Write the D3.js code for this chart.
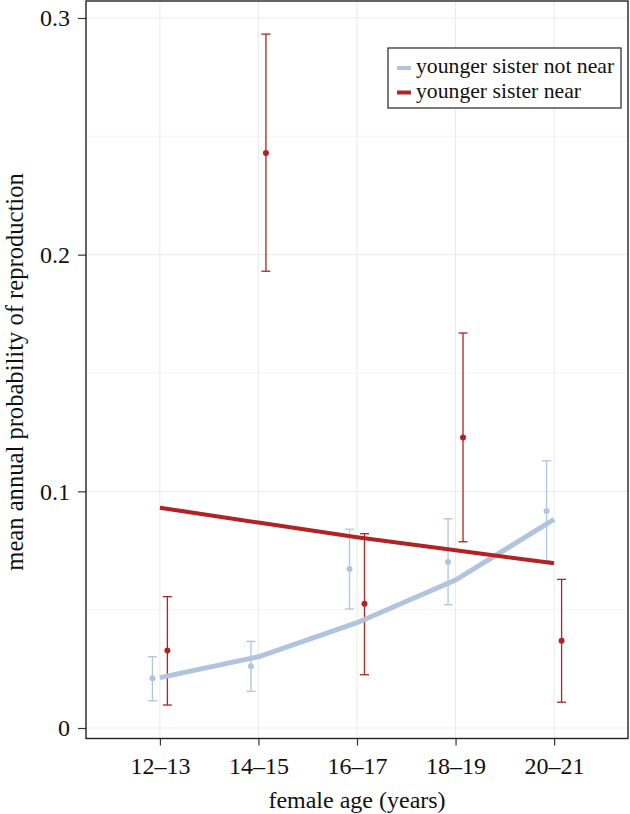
<!DOCTYPE html>
<html>
<head>
<meta charset="utf-8">
<script src="https://cdn.jsdelivr.net/npm/d3@7"></script>
<style>
html,body{margin:0;padding:0;background:#fff;}
svg{display:block;}
text{font-family:"Liberation Serif","Times New Roman",serif;fill:#111;}
</style>
</head>
<body>
<svg id="chart" width="630" height="814"></svg>
<script>
const categories = ["12–13","14–15","16–17","18–19","20–21"];
const yTicks = [0, 0.1, 0.2, 0.3];
const yMinorTicks = [0.05, 0.15, 0.25];

const notNearMean = [0.0210, 0.0261, 0.0672, 0.0701, 0.0917];
const notNearLow  = [0.0115, 0.0155, 0.0503, 0.0521, 0.0706];
const notNearHigh = [0.0301, 0.0366, 0.0840, 0.0884, 0.1129];
const notNearFit  = [0.0213, 0.0301, 0.0445, 0.0625, 0.0882];

const nearMean = [0.0327, 0.2430, 0.0525, 0.1227, 0.0369];
const nearLow  = [0.0097, 0.1930, 0.0225, 0.0787, 0.0109];
const nearHigh = [0.0555, 0.2932, 0.0821, 0.1669, 0.0628];
const nearFit  = [0.0931, 0.0868, 0.0806, 0.0751, 0.0696];

const seriesNames = ["younger sister not near", "younger sister near"];
const colors = ["#b0c4de", "#b22222"];

(function () {
const svg = d3.select("#chart");
const pL = 86, pR = 628, pT = 1, pB = 738.5;

const x = d3.scaleLinear().domain([-0.75, categories.length - 0.25]).range([pL, pR]);
const y = d3.scaleLinear().domain([0, 0.3]).range([728, 18]);
const dodge = 0.076;

svg.append("rect").attr("x", pL).attr("y", pT).attr("width", pR - pL).attr("height", pB - pT).attr("fill", "#fff");

// grid
const grid = svg.append("g");
grid.selectAll(".ymin").data(yMinorTicks).join("line")
  .attr("x1", pL).attr("x2", pR).attr("y1", d => y(d)).attr("y2", d => y(d))
  .attr("stroke", "#f4f4f4").attr("stroke-width", 1);
grid.selectAll(".ymaj").data(yTicks).join("line")
  .attr("x1", pL).attr("x2", pR).attr("y1", d => y(d)).attr("y2", d => y(d))
  .attr("stroke", "#ebebeb").attr("stroke-width", 1);
grid.selectAll(".xmaj").data(categories).join("line")
  .attr("x1", (d, i) => x(i)).attr("x2", (d, i) => x(i)).attr("y1", pT).attr("y2", pB)
  .attr("stroke", "#ebebeb").attr("stroke-width", 1);

function drawSeries(mean, low, high, color, off) {
  const g = svg.append("g");
  const idx = d3.range(mean.length);
  g.selectAll("line.v").data(idx).join("line")
    .attr("x1", i => x(i + off)).attr("x2", i => x(i + off))
    .attr("y1", i => y(low[i])).attr("y2", i => y(high[i]))
    .attr("stroke", color).attr("stroke-width", 1.3);
  [low, high].forEach(arr => {
    g.append("g").selectAll("line").data(idx).join("line")
      .attr("x1", i => x(i + off) - 4.5).attr("x2", i => x(i + off) + 4.5)
      .attr("y1", i => y(arr[i])).attr("y2", i => y(arr[i]))
      .attr("stroke", color).attr("stroke-width", 1.3);
  });
  g.append("g").selectAll("circle").data(idx).join("circle")
    .attr("cx", i => x(i + off)).attr("cy", i => y(mean[i])).attr("r", 3)
    .attr("fill", color);
}
drawSeries(notNearMean, notNearLow, notNearHigh, colors[0], -dodge);
drawSeries(nearMean, nearLow, nearHigh, colors[1], dodge);

const line = d3.line().x((d, i) => x(i)).y(d => y(d));
svg.append("path").datum(notNearFit).attr("d", line).attr("fill", "none")
  .attr("stroke", colors[0]).attr("stroke-width", 5);
svg.append("path").datum(nearFit).attr("d", line).attr("fill", "none")
  .attr("stroke", colors[1]).attr("stroke-width", 4);

const yAxis = d3.axisLeft(y).tickValues(yTicks).tickSize(8).tickPadding(8)
  .tickFormat(d => d === 0 ? "0" : d3.format(".1f")(d));
const gy = svg.append("g").attr("transform", `translate(${pL},0)`).call(yAxis);
gy.attr("font-family", null);
gy.select(".domain").remove();
gy.selectAll("text").attr("font-size", 24).attr("fill", "#111").style("font-family", '"Liberation Serif", serif');
gy.selectAll("line").attr("stroke", "#333").attr("stroke-width", 1.2);

const xAxis = d3.axisBottom(x).tickValues(d3.range(categories.length)).tickSize(7).tickPadding(11)
  .tickFormat(i => categories[i]);
const gx = svg.append("g").attr("transform", `translate(0,${pB})`).call(xAxis);
gx.attr("font-family", null);
gx.select(".domain").remove();
gx.selectAll("text").attr("font-size", 24).attr("fill", "#111").style("font-family", '"Liberation Serif", serif');
gx.selectAll("line").attr("stroke", "#333").attr("stroke-width", 1.2);

svg.append("rect").attr("x", pL).attr("y", pT).attr("width", pR - pL).attr("height", pB - pT)
  .attr("fill", "none").attr("stroke", "#222").attr("stroke-width", 1.4);

svg.append("text").attr("x", (pL + pR) / 2).attr("y", 808).attr("text-anchor", "middle")
  .attr("font-size", 24).text("female age (years)");
svg.append("text").attr("transform", `translate(23,${(172 + 572) / 2}) rotate(-90)`)
  .attr("text-anchor", "middle").attr("font-size", 24.6).text("mean annual probability of reproduction");

const lg = svg.append("g");
lg.append("rect").attr("x", 388).attr("y", 48).attr("width", 233).attr("height", 60)
  .attr("fill", "#fff").attr("stroke", "#222").attr("stroke-width", 1.2);
seriesNames.forEach((name, i) => {
  const yy = 68 + i * 24.5;
  lg.append("line").attr("x1", 397).attr("x2", 411).attr("y1", yy).attr("y2", yy)
    .attr("stroke", colors[i]).attr("stroke-width", 4);
  lg.append("text").attr("x", 416).attr("y", yy + 5).attr("font-size", 21.7).text(name);
});
})();
</script>
</body>
</html>
